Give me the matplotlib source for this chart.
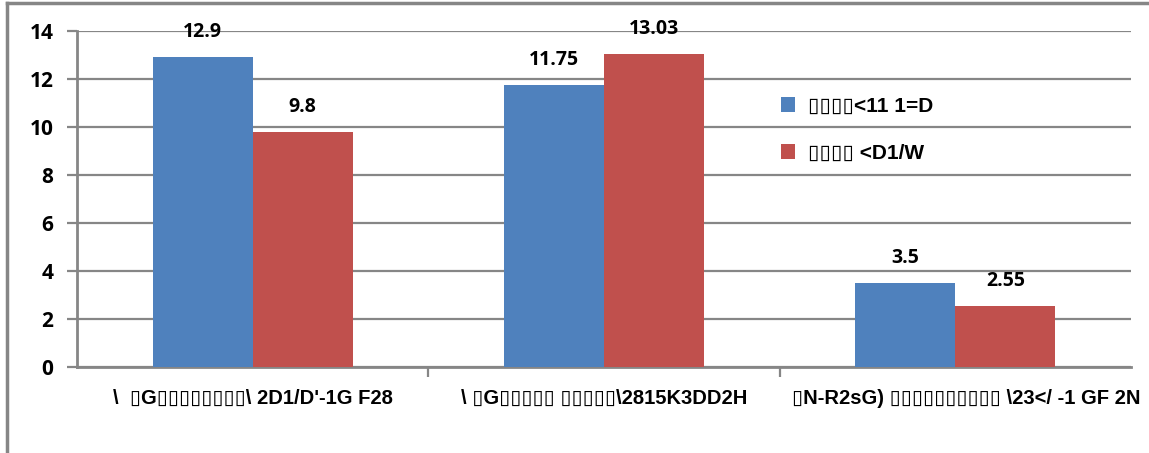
import numpy as np
import matplotlib.pyplot as plt
from matplotlib.lines import Line2D

categories = [
    "\\  ▯G▯▯▯▯▯▯▯▯\\ 2D1/D'-1G F28",
    "\\ ▯G▯▯▯▯▯ ▯▯▯▯▯\\2815K3DD2H",
    "▯N-R2sG) ▯▯▯▯▯▯▯▯▯▯ \\23</ -1 GF 2N",
]
series_names = ["▯▯▯▯<11 1=D", "▯▯▯▯ <D1/W"]
blue_vals = [12.9, 11.75, 3.5]
red_vals = [9.8, 13.03, 2.55]
value_labels_blue = ["12.9", "11.75", "3.5"]
value_labels_red = ["9.8", "13.03", "2.55"]
y_ticks = [0, 2, 4, 6, 8, 10, 12, 14]

blue = "#4F81BD"
red = "#C0504D"
grey = "#868686"
label_font = ["Liberation Sans Narrow", "Liberation Sans", "DejaVu Sans"]
num_font = ["Open Sans", "DejaVu Sans"]

fig = plt.figure(figsize=(11.49, 4.53), dpi=100)
ax = fig.add_axes([77 / 1149, 1 - 367 / 453, (1131 - 77) / 1149, (367 - 31) / 453])

x = np.arange(len(categories))
w = 0.285
b1 = ax.bar(x - w / 2, blue_vals, w, color=blue, label=series_names[0], zorder=3)
b2 = ax.bar(x + w / 2, red_vals, w, color=red, label=series_names[1], zorder=3)

for bars, labels in [(b1, value_labels_blue), (b2, value_labels_red)]:
    for rect, lab in zip(bars, labels):
        ax.annotate(lab, (rect.get_x() + rect.get_width() / 2, rect.get_height()),
                    xytext=(0, 18), textcoords="offset points", ha="center", va="center",
                    fontsize=14, fontweight="bold", family=num_font)

ax.set_xlim(-0.5, 2.5)
ax.set_ylim(0, 14)
ax.set_yticks(y_ticks)
ax.set_yticklabels([str(t) for t in y_ticks], fontsize=15, fontweight="bold", family=num_font)
ax.yaxis.grid(True, color=grey, linewidth=1.6, zorder=0)
ax.tick_params(axis="y", length=7, width=1.6, color=grey, pad=10)

ax.set_xticks([0.5, 1.5])
ax.set_xticklabels(["", ""])
ax.tick_params(axis="x", length=7, width=1.6, color=grey, direction="out")
label_x = [0.0, 0.0, 0.03]
for i, lab in enumerate(categories):
    ax.text(i + label_x[i], -1.3, lab, ha="center", va="center", fontsize=14.5, fontweight="bold",
            family=label_font, transform=ax.transData)

for s in ["top", "right"]:
    ax.spines[s].set_visible(False)
for s in ["left", "bottom"]:
    ax.spines[s].set_color(grey)
    ax.spines[s].set_linewidth(2)

leg = ax.legend(loc="upper left", bbox_to_anchor=((762 - 77) / 1054, 1 - (78 - 31) / 336),
                frameon=False, handlelength=0.7, handleheight=0.7, labelspacing=1.35,
                handletextpad=0.6, prop={"family": label_font, "weight": "bold", "size": 15})

fig.add_artist(Line2D([7 / 1149, 1], [1 - 3 / 453, 1 - 3 / 453], color=grey, linewidth=2.5))
fig.add_artist(Line2D([7 / 1149, 7 / 1149], [0, 1 - 3 / 453], color=grey, linewidth=2.5))

fig.savefig("out.png", dpi=100)
